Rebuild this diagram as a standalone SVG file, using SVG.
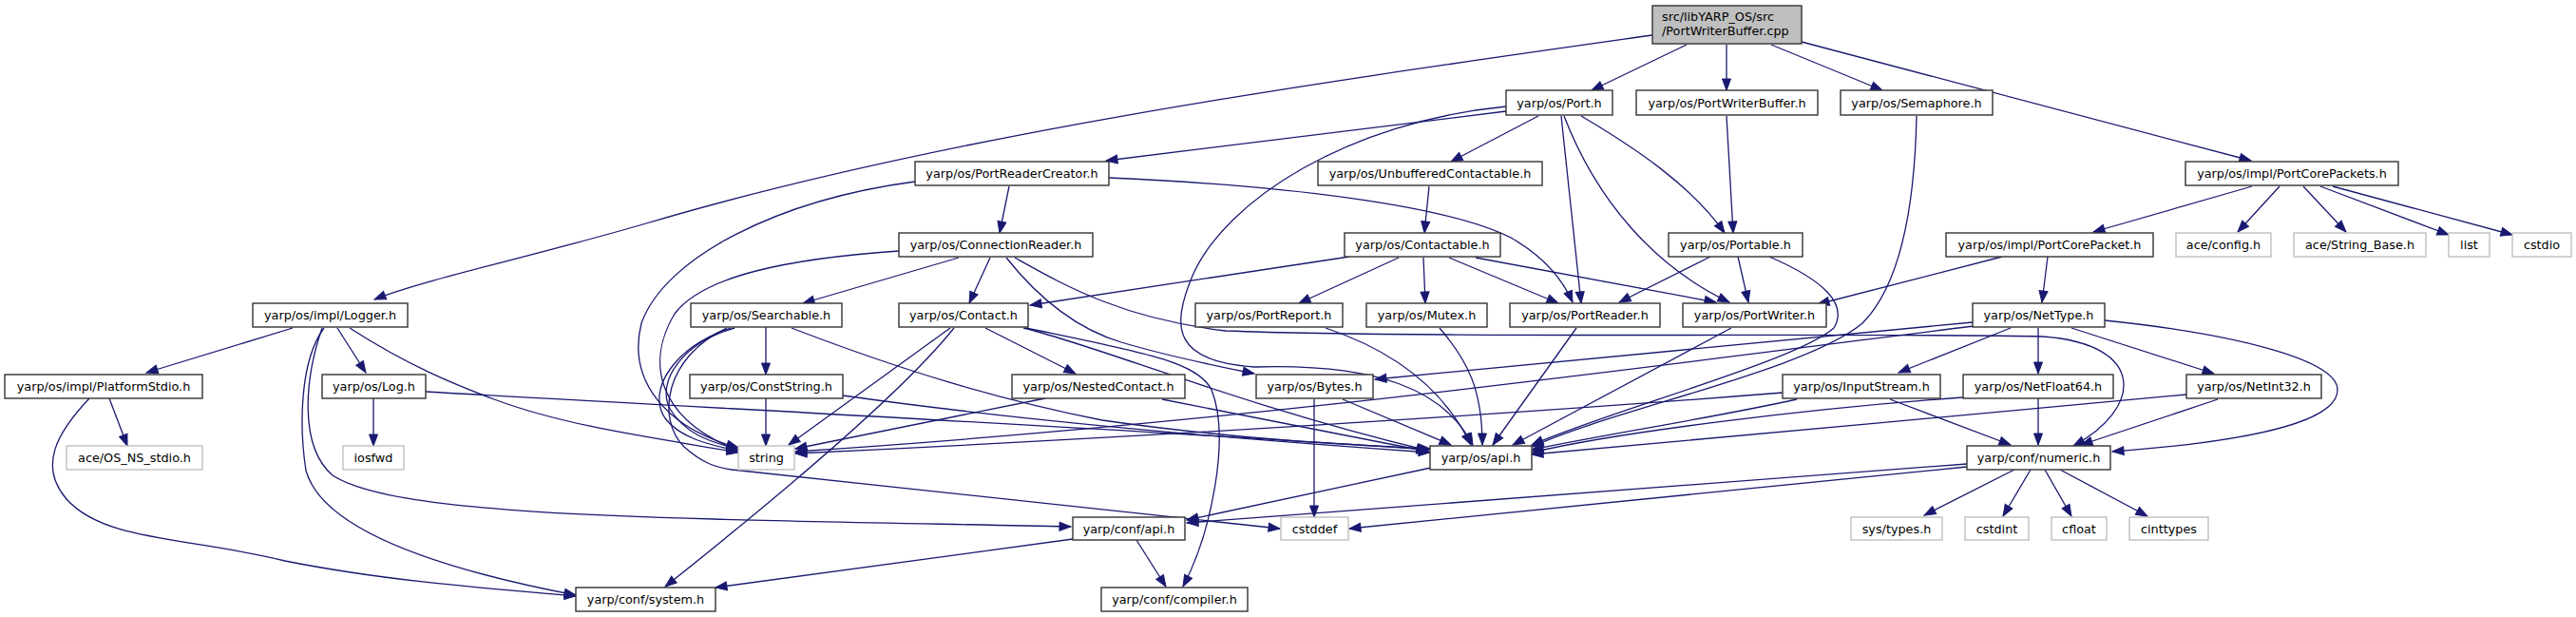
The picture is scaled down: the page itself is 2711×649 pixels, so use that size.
<svg xmlns="http://www.w3.org/2000/svg" width="2711" height="649" viewBox="0 0 2711 649">
<style>
.n rect{fill:#ffffff;stroke:#333333;stroke-width:1.4}
.x rect{fill:#ffffff;stroke:#bfbfbf;stroke-width:1.4}
.r rect{fill:#bfbfbf;stroke:#333333;stroke-width:1.4}
text{font-family:"DejaVu Sans","Liberation Sans",sans-serif;font-size:12.8px;fill:#000000;text-anchor:middle}
.r text{text-anchor:start}
#edges path{fill:none;stroke:#191970;stroke-width:1.3;marker-end:url(#a)}
</style>
<defs>
<marker id="a" markerUnits="userSpaceOnUse" markerWidth="14" markerHeight="12" refX="12" refY="5" orient="auto" overflow="visible">
<path d="M0,0.5 L12,5 L0,9.5 z" fill="#191970" stroke="#191970" stroke-width="1"/>
</marker>
</defs>
<rect x="0" y="0" width="2711" height="649" fill="#ffffff"/>
<g id="edges">
<path d="M1739,37 C1400,85 1000,140 680,235 C560,270 450,293 394,315"/>
<path d="M1775,47 L1675,95"/>
<path d="M1817,47 L1817,95"/>
<path d="M1864,47 L1981,95"/>
<path d="M1896,44 L2369,169"/>
<path d="M1585,117 L1164,169"/>
<path d="M1619,122 L1527,170"/>
<path d="M1643,122 L1664,319"/>
<path d="M1646,122 C1680,210 1740,280 1820,318"/>
<path d="M1664,122 C1720,155 1780,195 1815,245"/>
<path d="M1585,112 C1420,128 1290,210 1255,290 C1232,345 1235,380 1320,386 C1450,382 1520,410 1550,468"/>
<path d="M1817,122 L1824,245"/>
<path d="M2017,122 C2015,220 2000,300 1960,340 C1900,390 1700,430 1612,470"/>
<path d="M963,191 C820,210 700,270 675,340 C660,400 700,450 777,471"/>
<path d="M1062,196 L1052,245"/>
<path d="M1167,187 C1350,195 1520,215 1590,250 C1625,270 1645,295 1655,318"/>
<path d="M946,264 C830,272 740,290 710,330 C680,380 690,440 777,474"/>
<path d="M1009,271 L845,319"/>
<path d="M1042,271 L1020,319"/>
<path d="M1059,271 C1090,310 1130,345 1180,360 C1230,375 1280,385 1320,393"/>
<path d="M1068,271 C1120,300 1180,335 1290,348 C1500,356 2000,350 2150,354 C2260,362 2255,430 2182,469"/>
<path d="M806,344 L806,394"/>
<path d="M773,345 C720,360 690,400 705,430 C720,455 745,465 777,472"/>
<path d="M769,345 C710,365 680,410 700,440 C715,460 745,468 777,474"/>
<path d="M765,345 C700,375 690,440 720,470 C740,488 755,492 770,494 L1347,556"/>
<path d="M833,345 C950,390 1050,420 1160,442 C1300,462 1420,468 1505,472"/>
<path d="M806,419 L806,469"/>
<path d="M887,416 C1000,432 1200,455 1505,476"/>
<path d="M1000,345 L830,468"/>
<path d="M1004,345 C960,400 860,490 700,617"/>
<path d="M1037,345 L1132,393"/>
<path d="M1080,345 C1200,370 1260,380 1275,410 C1295,460 1275,560 1245,617"/>
<path d="M1077,345 C1160,365 1300,425 1503,474"/>
<path d="M1100,419 L837,472"/>
<path d="M1223,420 L1503,475"/>
<path d="M393,419 L393,469"/>
<path d="M448,412 C800,432 1200,452 1504,473"/>
<path d="M308,345 L154,392"/>
<path d="M341,345 C315,380 315,450 322,495 C340,560 470,600 606,626"/>
<path d="M339,345 C320,400 315,470 350,500 C420,545 700,545 1127,554"/>
<path d="M355,345 L385,392"/>
<path d="M368,345 C430,385 480,405 520,420 C600,450 700,462 777,476"/>
<path d="M115,419 L134,469"/>
<path d="M94,419 C60,455 40,490 70,525 C110,570 200,565 300,590 C400,610 500,618 606,627"/>
<path d="M1504,196 L1499,245"/>
<path d="M1420,270 L1084,321"/>
<path d="M1472,271 L1367,319"/>
<path d="M1498,271 L1500,319"/>
<path d="M1525,271 L1640,319"/>
<path d="M1553,271 L1806,318"/>
<path d="M1800,270 L1704,318"/>
<path d="M1829,270 L1840,318"/>
<path d="M1862,270 C1920,295 1945,320 1930,345 C1890,380 1700,430 1612,468"/>
<path d="M1395,345 C1470,370 1520,410 1548,468"/>
<path d="M1515,345 C1545,380 1560,410 1560,468"/>
<path d="M1659,345 L1571,468"/>
<path d="M1822,345 L1592,468"/>
<path d="M1413,420 L1527,468"/>
<path d="M1383,420 L1383,544"/>
<path d="M1506,492 L1249,547"/>
<path d="M2107,270 L1913,320"/>
<path d="M2155,270 L2149,318"/>
<path d="M2370,196 L2203,244"/>
<path d="M2399,196 L2355,244"/>
<path d="M2424,196 L2469,244"/>
<path d="M2442,196 L2577,247"/>
<path d="M2455,196 L2644,247"/>
<path d="M2076,339 L1447,399"/>
<path d="M2077,343 C1700,390 1300,445 837,475"/>
<path d="M1876,413 C1600,435 1200,460 837,477"/>
<path d="M2116,345 L1998,392"/>
<path d="M2145,345 L2145,393"/>
<path d="M2180,345 L2330,393"/>
<path d="M2215,337 C2360,352 2460,380 2460,410 C2460,445 2360,465 2223,475"/>
<path d="M1891,420 C1800,440 1700,455 1612,473"/>
<path d="M1989,420 L2116,468"/>
<path d="M2066,418 C1900,430 1700,455 1612,476"/>
<path d="M2145,419 L2145,468"/>
<path d="M2301,415 C2100,435 1800,460 1612,478"/>
<path d="M2334,420 L2190,468"/>
<path d="M2070,488 L1249,550"/>
<path d="M2070,491 L1420,556"/>
<path d="M2120,494 L2025,542"/>
<path d="M2137,494 L2108,543"/>
<path d="M2152,494 L2180,543"/>
<path d="M2168,494 L2260,543"/>
<path d="M1129,567 L753,618"/>
<path d="M1196,568 L1227,617"/>
</g>
<g id="root" class="r"><rect x="1739" y="6" width="157" height="40"/><text x="1749" y="22">src/libYARP_OS/src</text><text x="1749" y="37">/PortWriterBuffer.cpp</text></g>
<g id="port" class="n"><rect x="1585" y="95" width="112" height="26"/><text x="1641" y="112.5">yarp/os/Port.h</text></g>
<g id="portwriterbuffer" class="n"><rect x="1722" y="95" width="191" height="26"/><text x="1817.5" y="112.5">yarp/os/PortWriterBuffer.h</text></g>
<g id="semaphore" class="n"><rect x="1937" y="95" width="160" height="26"/><text x="2017" y="112.5">yarp/os/Semaphore.h</text></g>
<g id="portreadercreator" class="n"><rect x="963" y="170" width="204" height="25"/><text x="1065" y="187">yarp/os/PortReaderCreator.h</text></g>
<g id="unbufferedcontactable" class="n"><rect x="1387" y="170" width="236" height="25"/><text x="1505" y="187">yarp/os/UnbufferedContactable.h</text></g>
<g id="portcorepackets" class="n"><rect x="2300" y="170" width="224" height="25"/><text x="2412" y="187">yarp/os/impl/PortCorePackets.h</text></g>
<g id="connectionreader" class="n"><rect x="946" y="245" width="204" height="25"/><text x="1048" y="262">yarp/os/ConnectionReader.h</text></g>
<g id="contactable" class="n"><rect x="1415" y="245" width="164" height="25"/><text x="1497" y="262">yarp/os/Contactable.h</text></g>
<g id="portable" class="n"><rect x="1756" y="245" width="141" height="25"/><text x="1826.5" y="262">yarp/os/Portable.h</text></g>
<g id="portcorepacket" class="n"><rect x="2048" y="245" width="218" height="25"/><text x="2157" y="262">yarp/os/impl/PortCorePacket.h</text></g>
<g id="aceconfig" class="x"><rect x="2290" y="245" width="100" height="25"/><text x="2340" y="262">ace/config.h</text></g>
<g id="acestringbase" class="x"><rect x="2414" y="245" width="139" height="25"/><text x="2483.5" y="262">ace/String_Base.h</text></g>
<g id="list" class="x"><rect x="2577" y="245" width="43" height="25"/><text x="2598.5" y="262">list</text></g>
<g id="cstdio" class="x"><rect x="2644" y="245" width="62" height="25"/><text x="2675" y="262">cstdio</text></g>
<g id="logger" class="n"><rect x="266" y="319" width="163" height="25"/><text x="347.5" y="336">yarp/os/impl/Logger.h</text></g>
<g id="searchable" class="n"><rect x="727" y="319" width="159" height="25"/><text x="806.5" y="336">yarp/os/Searchable.h</text></g>
<g id="contact" class="n"><rect x="946" y="319" width="136" height="25"/><text x="1014" y="336">yarp/os/Contact.h</text></g>
<g id="portreport" class="n"><rect x="1258" y="319" width="155" height="25"/><text x="1335.5" y="336">yarp/os/PortReport.h</text></g>
<g id="mutex" class="n"><rect x="1438" y="319" width="127" height="25"/><text x="1501.5" y="336">yarp/os/Mutex.h</text></g>
<g id="portreader" class="n"><rect x="1589" y="319" width="158" height="25"/><text x="1668" y="336">yarp/os/PortReader.h</text></g>
<g id="portwriter" class="n"><rect x="1771" y="319" width="151" height="25"/><text x="1846.5" y="336">yarp/os/PortWriter.h</text></g>
<g id="nettype" class="n"><rect x="2076" y="319" width="139" height="25"/><text x="2145.5" y="336">yarp/os/NetType.h</text></g>
<g id="platformstdio" class="n"><rect x="5" y="394" width="208" height="25"/><text x="109" y="411">yarp/os/impl/PlatformStdio.h</text></g>
<g id="log" class="n"><rect x="339" y="394" width="109" height="25"/><text x="393.5" y="411">yarp/os/Log.h</text></g>
<g id="conststring" class="n"><rect x="726" y="394" width="161" height="25"/><text x="806.5" y="411">yarp/os/ConstString.h</text></g>
<g id="nestedcontact" class="n"><rect x="1065" y="394" width="182" height="25"/><text x="1156" y="411">yarp/os/NestedContact.h</text></g>
<g id="bytes" class="n"><rect x="1322" y="394" width="123" height="25"/><text x="1383.5" y="411">yarp/os/Bytes.h</text></g>
<g id="inputstream" class="n"><rect x="1876" y="394" width="166" height="25"/><text x="1959" y="411">yarp/os/InputStream.h</text></g>
<g id="netfloat64" class="n"><rect x="2066" y="394" width="158" height="25"/><text x="2145" y="411">yarp/os/NetFloat64.h</text></g>
<g id="netint32" class="n"><rect x="2301" y="394" width="142" height="25"/><text x="2372" y="411">yarp/os/NetInt32.h</text></g>
<g id="acestdio" class="x"><rect x="70" y="469" width="143" height="25"/><text x="141.5" y="486">ace/OS_NS_stdio.h</text></g>
<g id="iosfwd" class="x"><rect x="361" y="469" width="64" height="25"/><text x="393" y="486">iosfwd</text></g>
<g id="string" class="x"><rect x="777" y="469" width="59" height="25"/><text x="806.5" y="486">string</text></g>
<g id="osapi" class="n"><rect x="1505" y="469" width="107" height="25"/><text x="1558.5" y="486">yarp/os/api.h</text></g>
<g id="numeric" class="n"><rect x="2070" y="469" width="151" height="25"/><text x="2145.5" y="486">yarp/conf/numeric.h</text></g>
<g id="confapi" class="n"><rect x="1129" y="544" width="118" height="24"/><text x="1188" y="560.5">yarp/conf/api.h</text></g>
<g id="cstddef" class="x"><rect x="1348" y="544" width="71" height="24"/><text x="1383.5" y="560.5">cstddef</text></g>
<g id="systypes" class="x"><rect x="1948" y="544" width="96" height="24"/><text x="1996" y="560.5">sys/types.h</text></g>
<g id="cstdint" class="x"><rect x="2068" y="544" width="67" height="24"/><text x="2101.5" y="560.5">cstdint</text></g>
<g id="cfloat" class="x"><rect x="2159" y="544" width="58" height="24"/><text x="2188" y="560.5">cfloat</text></g>
<g id="cinttypes" class="x"><rect x="2241" y="544" width="83" height="24"/><text x="2282.5" y="560.5">cinttypes</text></g>
<g id="system" class="n"><rect x="606" y="618" width="147" height="25"/><text x="679.5" y="635">yarp/conf/system.h</text></g>
<g id="compiler" class="n"><rect x="1159" y="618" width="154" height="25"/><text x="1236" y="635">yarp/conf/compiler.h</text></g>
</svg>
